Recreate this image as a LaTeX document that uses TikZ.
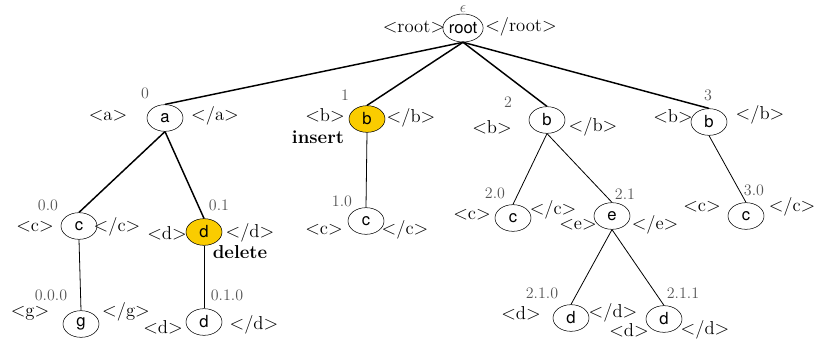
\documentclass[tikz,border=0pt]{standalone}
\usepackage{fontspec}
\newfontfamily\heros{TeX Gyre Heros}
\usetikzlibrary{shapes.geometric}
\definecolor{gold}{RGB}{250, 204, 0}
\definecolor{idxgray}{RGB}{85, 85, 85}

\begin{document}
\begin{tikzpicture}[x=0.75pt, y=-0.75pt,
    elem/.style={ellipse, draw, thin, minimum width=27pt, minimum height=20pt, inner sep=0pt, font=\heros\fontsize{12.5}{14}\selectfont},
    hit/.style={elem, fill=gold},
    tag/.style={inner sep=0pt, font=\fontsize{14}{16}\selectfont},
    idx/.style={inner sep=0pt, text=idxgray, font=\fontsize{12}{14}\selectfont},
    op/.style={inner sep=0pt, font=\bfseries\fontsize{14}{16}\selectfont},
    trunk/.style={line width=1.1pt},
    twig/.style={line width=0.6pt}]
    \useasboundingbox (0,0) rectangle (814,347);
    % Root
    \node[elem, minimum height=21pt] (root) at (463, 28) {root};
    \node[idx, anchor=base] (eps) at (463, 12) {$\epsilon$};
    \node[tag]  (lroot) at (414, 27) {$<$root$>$};
    \node[tag]  (rroot) at (521, 27) {$<$/root$>$};
    % Level 1
    \node[elem] (a)  at (165, 118) {a};
    \node[idx]  (ia) at (145,  93) {0};
    \node[tag]  (la) at (108, 116) {$<$a$>$};
    \node[tag]  (ra) at (215, 116) {$<$/a$>$};
    \node[hit]  (b1)  at (367, 119) {b};
    \node[idx]  (ib1) at (345,  95) {1};
    \node[tag]  (lb1) at (325, 115) {$<$b$>$};
    \node[tag]  (rb1) at (411, 118) {$<$/b$>$};
    \node[op]   (ins) at (318, 137) {insert};
    \node[elem] (b2)  at (547, 120) {b};
    \node[idx]  (ib2) at (508, 102) {2};
    \node[tag]  (lb2) at (492, 127) {$<$b$>$};
    \node[tag]  (rb2) at (593, 127) {$<$/b$>$};
    \node[elem] (b3)  at (709, 122) {b};
    \node[idx]  (ib3) at (708,  95) {3};
    \node[tag]  (lb3) at (673, 116) {$<$b$>$};
    \node[tag]  (rb3) at (760, 115) {$<$/b$>$};
    % Level 2
    \node[elem] (c00)  at (79, 226) {c};
    \node[idx]  (ic00) at (48, 205) {0.0};
    \node[tag]  (lc00) at (35, 227) {$<$c$>$};
    \node[tag]  (rc00) at (117, 227) {$<$/c$>$};
    \node[hit]  (d01)  at (204, 232) {d};
    \node[idx]  (id01) at (219, 205) {0.1};
    \node[tag]  (ld01) at (167, 233) {$<$d$>$};
    \node[tag]  (rd01) at (250, 233) {$<$/d$>$};
    \node[op]   (del)  at (240, 252) {delete};
    \node[elem] (c10)  at (366, 221) {c};
    \node[idx]  (ic10) at (342, 201) {1.0};
    \node[tag]  (lc10) at (324, 230) {$<$c$>$};
    \node[tag]  (rc10) at (405, 230) {$<$/c$>$};
    \node[elem] (c20)  at (513, 218) {c};
    \node[idx]  (ic20) at (495, 193) {2.0};
    \node[tag]  (lc20) at (472, 215) {$<$c$>$};
    \node[tag]  (rc20) at (553, 210) {$<$/c$>$};
    \node[elem] (e21)  at (612, 216) {e};
    \node[idx]  (ie21) at (625, 194) {2.1};
    \node[tag]  (le21) at (578, 225) {$<$e$>$};
    \node[tag]  (re21) at (655, 225) {$<$/e$>$};
    \node[elem] (c30)  at (746, 216) {c};
    \node[idx]  (ic30) at (754, 190) {3.0};
    \node[tag]  (lc30) at (702, 207) {$<$c$>$};
    \node[tag]  (rc30) at (792, 207) {$<$/c$>$};
    % Level 3
    \node[elem] (g000)  at (81, 324) {g};
    \node[idx]  (ig000) at (51, 295) {0.0.0};
    \node[tag]  (lg000) at (30, 313) {$<$g$>$};
    \node[tag]  (rg000) at (126, 312) {$<$/g$>$};
    \node[elem] (d010)  at (204, 322) {d};
    \node[idx]  (id010) at (227, 295) {0.1.0};
    \node[tag]  (ld010) at (163, 327) {$<$d$>$};
    \node[tag]  (rd010) at (254, 325) {$<$/d$>$};
    \node[elem] (d210)  at (571, 318) {d};
    \node[idx]  (id210) at (542, 293) {2.1.0};
    \node[tag]  (ld210) at (521, 313) {$<$d$>$};
    \node[tag]  (rd210) at (613, 313) {$<$/d$>$};
    \node[elem] (d211)  at (664, 319) {d};
    \node[idx]  (id211) at (683, 293) {2.1.1};
    \node[tag]  (ld211) at (629, 330) {$<$d$>$};
    \node[tag]  (rd211) at (705, 330) {$<$/d$>$};
    % Edges
    \foreach \kid in {a, b1, b2, b3}
        \draw[trunk] (root.south) -- (\kid.north);
    \draw[trunk] (a.south) -- (c00.north);
    \draw[trunk] (a.south) -- (d01.north);
    \draw[twig] (c00.south) -- (g000.north);
    \draw[twig] (d01.south) -- (d010.north);
    \draw[twig] (b1.south) -- (c10.north);
    \draw[twig] (b2.south) -- (c20.north);
    \draw[twig] (b2.south) -- (e21.north);
    \draw[twig] (b3.south) -- (c30.north);
    \draw[twig] (e21.south) -- (d210.north);
    \draw[twig] (e21.south) -- (d211.north);
\end{tikzpicture}
\end{document}
